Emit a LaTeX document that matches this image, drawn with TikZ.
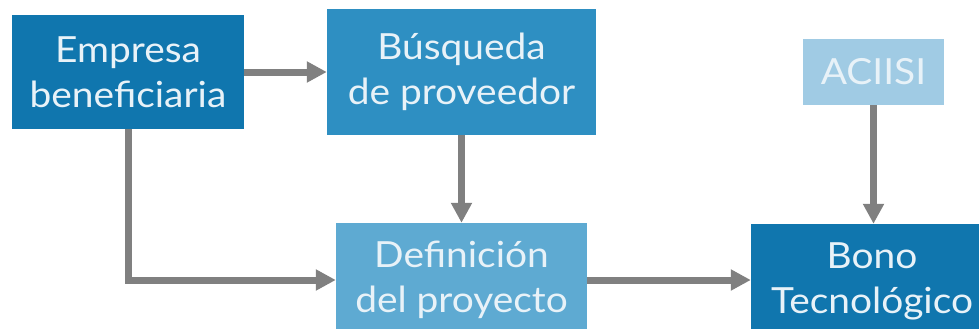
\documentclass[tikz,border=0pt]{standalone}
\usepackage{fontspec}
\setmainfont{Lato}[FakeStretch=1.08]
\usetikzlibrary{arrows.meta}
\definecolor{cdark}{RGB}{16,118,174}
\definecolor{cmid}{RGB}{46,143,194}
\definecolor{clight}{RGB}{94,170,210}
\definecolor{cpale}{RGB}{160,203,228}
\definecolor{ctext}{RGB}{232,242,248}
\definecolor{cgray}{RGB}{128,128,128}
\begin{document}
\begin{tikzpicture}[x=1pt,y=-1pt,
  box/.style={inner sep=0pt, text=ctext, align=center,
    font=\fontsize{36}{45}\selectfont},
  conn/.style={draw=cgray, line width=7pt,
    -{Triangle[length=20pt,width=20pt]}}]
\useasboundingbox (0,0) rectangle (979,329);
\clip (0,0) rectangle (979,329);
\node[box, fill=cdark, minimum width=232pt, minimum height=114pt] (emp) at (128,72) {Empresa\\beneficiaria};
\node[box, fill=cmid, minimum width=269pt, minimum height=126pt] (bus) at (461.5,72) {Búsqueda\\de proveedor};
\node[box, fill=clight, minimum width=251pt, minimum height=114pt] (def) at (461.5,280) {Definición\\del proyecto};
\node[box, fill=cpale, minimum width=141pt, minimum height=66pt] (aci) at (873.5,72) {ACIISI};
\node[box, fill=cdark, minimum width=242pt, minimum height=114pt] (bono) at (872,281) {Bono\\Tecnológico};
\draw[conn] (emp.east) -- (bus.west);
\draw[conn] (emp.south) |- (def.west);
\draw[conn] (bus.south) -- (def.north);
\draw[conn] (def.east) -- (bono.west |- def.east);
\draw[conn] (aci.south) -- (bono.north -| aci.south);
\end{tikzpicture}
\end{document}
